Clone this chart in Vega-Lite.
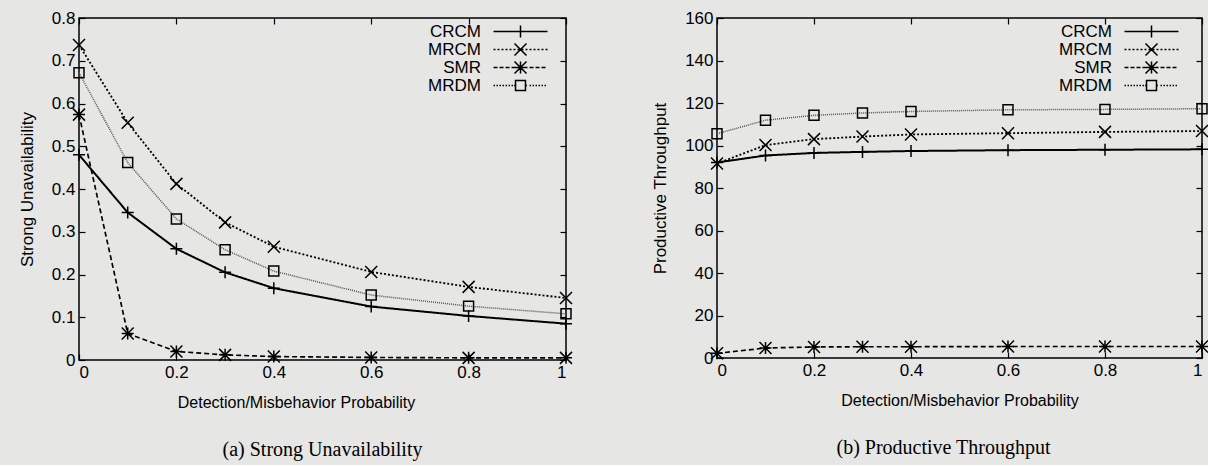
{
  "$schema": "https://vega.github.io/schema/vega-lite/v6.json",
  "background": "#e6e6e4",
  "padding": {"left": 17, "top": 8, "right": 4, "bottom": 4},
  "spacing": 74,
  "datasets": {
    "su": [
      {"s": "CRCM", "p": 0, "v": 0.48}, {"s": "CRCM", "p": 0.1, "v": 0.345}, {"s": "CRCM", "p": 0.2, "v": 0.26}, {"s": "CRCM", "p": 0.3, "v": 0.205}, {"s": "CRCM", "p": 0.4, "v": 0.168}, {"s": "CRCM", "p": 0.6, "v": 0.125}, {"s": "CRCM", "p": 0.8, "v": 0.103}, {"s": "CRCM", "p": 1, "v": 0.085},
      {"s": "MRCM", "p": 0, "v": 0.737}, {"s": "MRCM", "p": 0.1, "v": 0.555}, {"s": "MRCM", "p": 0.2, "v": 0.412}, {"s": "MRCM", "p": 0.3, "v": 0.322}, {"s": "MRCM", "p": 0.4, "v": 0.265}, {"s": "MRCM", "p": 0.6, "v": 0.206}, {"s": "MRCM", "p": 0.8, "v": 0.171}, {"s": "MRCM", "p": 1, "v": 0.145},
      {"s": "SMR", "p": 0, "v": 0.574}, {"s": "SMR", "p": 0.1, "v": 0.062}, {"s": "SMR", "p": 0.2, "v": 0.02}, {"s": "SMR", "p": 0.3, "v": 0.012}, {"s": "SMR", "p": 0.4, "v": 0.008}, {"s": "SMR", "p": 0.6, "v": 0.006}, {"s": "SMR", "p": 0.8, "v": 0.005}, {"s": "SMR", "p": 1, "v": 0.005},
      {"s": "MRDM", "p": 0, "v": 0.672}, {"s": "MRDM", "p": 0.1, "v": 0.462}, {"s": "MRDM", "p": 0.2, "v": 0.33}, {"s": "MRDM", "p": 0.3, "v": 0.258}, {"s": "MRDM", "p": 0.4, "v": 0.208}, {"s": "MRDM", "p": 0.6, "v": 0.152}, {"s": "MRDM", "p": 0.8, "v": 0.126}, {"s": "MRDM", "p": 1, "v": 0.108}
    ],
    "pt": [
      {"s": "CRCM", "p": 0, "v": 92}, {"s": "CRCM", "p": 0.1, "v": 95.3}, {"s": "CRCM", "p": 0.2, "v": 96.5}, {"s": "CRCM", "p": 0.3, "v": 97}, {"s": "CRCM", "p": 0.4, "v": 97.4}, {"s": "CRCM", "p": 0.6, "v": 97.8}, {"s": "CRCM", "p": 0.8, "v": 98}, {"s": "CRCM", "p": 1, "v": 98.2},
      {"s": "MRCM", "p": 0, "v": 91.5}, {"s": "MRCM", "p": 0.1, "v": 100.2}, {"s": "MRCM", "p": 0.2, "v": 103}, {"s": "MRCM", "p": 0.3, "v": 104.2}, {"s": "MRCM", "p": 0.4, "v": 105.2}, {"s": "MRCM", "p": 0.6, "v": 105.8}, {"s": "MRCM", "p": 0.8, "v": 106.4}, {"s": "MRCM", "p": 1, "v": 106.8},
      {"s": "SMR", "p": 0, "v": 2.2}, {"s": "SMR", "p": 0.1, "v": 4.7}, {"s": "SMR", "p": 0.2, "v": 5.2}, {"s": "SMR", "p": 0.3, "v": 5.3}, {"s": "SMR", "p": 0.4, "v": 5.3}, {"s": "SMR", "p": 0.6, "v": 5.4}, {"s": "SMR", "p": 0.8, "v": 5.4}, {"s": "SMR", "p": 1, "v": 5.4},
      {"s": "MRDM", "p": 0, "v": 105.5}, {"s": "MRDM", "p": 0.1, "v": 111.9}, {"s": "MRDM", "p": 0.2, "v": 114.2}, {"s": "MRDM", "p": 0.3, "v": 115.3}, {"s": "MRDM", "p": 0.4, "v": 116}, {"s": "MRDM", "p": 0.6, "v": 116.8}, {"s": "MRDM", "p": 0.8, "v": 117}, {"s": "MRDM", "p": 1, "v": 117.3}
    ]
  },
  "hconcat": [
    {
      "width": 487,
      "height": 342,
      "data": {"name": "su"},
      "title": {"text": "(a) Strong Unavailability", "orient": "bottom", "font": "Liberation Serif", "fontSize": 20, "fontWeight": "normal", "color": "black", "offset": 30, "anchor": "middle"},
      "layer": [
        {
          "mark": {"type": "line", "clip": false},
          "encoding": {
            "x": {"field": "p", "type": "quantitative", "scale": {"domain": [0, 1], "nice": false}, "axis": {"values": [0, 0.2, 0.4, 0.6, 0.8, 1], "format": "~g", "title": "Detection/Misbehavior Probability", "titleX": 217}},
            "y": {"field": "v", "type": "quantitative", "scale": {"domain": [0, 0.8], "nice": false}, "axis": {"values": [0, 0.1, 0.2, 0.3, 0.4, 0.5, 0.6, 0.7, 0.8], "format": "~g", "title": "Strong Unavailability"}},
            "color": {"field": "s", "type": "nominal", "scale": {"domain": ["CRCM", "MRCM", "SMR", "MRDM"], "range": ["#000000", "#000000", "#000000", "#555555"]}, "legend": null},
            "strokeDash": {"field": "s", "type": "nominal", "scale": {"domain": ["CRCM", "MRCM", "SMR", "MRDM"], "range": [[1, 0], [2, 2], [5, 3], [1, 1]]}, "legend": null},
            "strokeWidth": {"field": "s", "type": "nominal", "scale": {"domain": ["CRCM", "MRCM", "SMR", "MRDM"], "range": [2, 1.5, 1.5, 1.2]}, "legend": null}
          }
        },
        {
          "mark": {"type": "point", "filled": false, "color": "black", "size": 144, "strokeWidth": 1.5, "opacity": 1, "clip": false},
          "encoding": {
            "x": {"field": "p", "type": "quantitative", "axis": null},
            "y": {"field": "v", "type": "quantitative", "axis": null},
            "shape": {"field": "s", "type": "nominal", "scale": {"domain": ["CRCM", "MRCM", "SMR", "MRDM"], "range": ["M-1,0H1M0,-1V1", "M-1,-1L1,1M-1,1L1,-1", "M-1,0H1M0,-1V1M-1,-1L1,1M-1,1L1,-1", "M-0.83,-0.83H0.83V0.83H-0.83Z"]}, "legend": null}
          }
        },
        {
          "transform": [{"filter": "false"}],
          "mark": {"type": "point", "filled": false, "color": "black", "size": 144, "strokeWidth": 1.5, "opacity": 1},
          "encoding": {
            "x": {"field": "p", "type": "quantitative", "axis": {"orient": "top", "labels": false, "title": null, "values": [0, 0.2, 0.4, 0.6, 0.8, 1]}},
            "y": {"field": "v", "type": "quantitative", "axis": {"orient": "right", "labels": false, "title": null, "values": [0, 0.1, 0.2, 0.3, 0.4, 0.5, 0.6, 0.7, 0.8]}},
            "shape": {"field": "s", "type": "nominal", "scale": {"domain": ["CRCM", "MRCM", "SMR", "MRDM"], "range": [
              "M-4.5,0H4.5M0,-1V1",
              "M-4.5,0h0.33M-3.83,0h0.33M-3.17,0h0.33M-2.5,0h0.33M-1.83,0h0.33M-1.17,0h0.33M-0.5,0h0.33M0.17,0h0.33M0.83,0h0.33M1.5,0h0.33M2.17,0h0.33M2.83,0h0.33M3.5,0h0.33M4.17,0h0.33M-1,-1L1,1M-1,1L1,-1",
              "M-4.5,0h0.67M-3.5,0h0.67M-2.5,0h0.67M-1.5,0h0.67M-0.5,0h0.67M0.5,0h0.67M1.5,0h0.67M2.5,0h0.67M3.5,0h0.67M-1,0H1M0,-1V1M-1,-1L1,1M-1,1L1,-1",
              "M-4.5,0h0.25M-4,0h0.25M-3.5,0h0.25M-3,0h0.25M-2.5,0h0.25M-2,0h0.25M-1.5,0h0.25M-1.08,0h0.25M0.83,0h0.25M1.5,0h0.25M2,0h0.25M2.5,0h0.25M3,0h0.25M3.5,0h0.25M4,0h0.25M-0.83,-0.83H0.83V0.83H-0.83Z"
            ]}, "legend": {"title": null, "orient": "none", "legendX": 433, "legendY": 5}}
          }
        }
      ],
      "resolve": {"scale": {"shape": "independent"}, "axis": {"x": "independent", "y": "independent"}}
    },
    {
      "width": 485,
      "height": 340,
      "data": {"name": "pt"},
      "title": {"text": "(b) Productive Throughput", "orient": "bottom", "font": "Liberation Serif", "fontSize": 20, "fontWeight": "normal", "color": "black", "offset": 30, "anchor": "middle", "frame": "group", "dx": -16},
      "layer": [
        {
          "mark": {"type": "line", "clip": false},
          "encoding": {
            "x": {"field": "p", "type": "quantitative", "scale": {"domain": [0, 1], "nice": false}, "axis": {"values": [0, 0.2, 0.4, 0.6, 0.8, 1], "format": "~g", "title": "Detection/Misbehavior Probability"}},
            "y": {"field": "v", "type": "quantitative", "scale": {"domain": [0, 160], "nice": false}, "axis": {"values": [0, 20, 40, 60, 80, 100, 120, 140, 160], "format": "d", "title": "Productive Throughput"}},
            "color": {"field": "s", "type": "nominal", "scale": {"domain": ["CRCM", "MRCM", "SMR", "MRDM"], "range": ["#000000", "#000000", "#000000", "#555555"]}, "legend": null},
            "strokeDash": {"field": "s", "type": "nominal", "scale": {"domain": ["CRCM", "MRCM", "SMR", "MRDM"], "range": [[1, 0], [2, 2], [5, 3], [1, 1]]}, "legend": null},
            "strokeWidth": {"field": "s", "type": "nominal", "scale": {"domain": ["CRCM", "MRCM", "SMR", "MRDM"], "range": [2, 1.5, 1.5, 1.2]}, "legend": null}
          }
        },
        {
          "mark": {"type": "point", "filled": false, "color": "black", "size": 144, "strokeWidth": 1.5, "opacity": 1, "clip": false},
          "encoding": {
            "x": {"field": "p", "type": "quantitative", "axis": null},
            "y": {"field": "v", "type": "quantitative", "axis": null},
            "shape": {"field": "s", "type": "nominal", "scale": {"domain": ["CRCM", "MRCM", "SMR", "MRDM"], "range": ["M-1,0H1M0,-1V1", "M-1,-1L1,1M-1,1L1,-1", "M-1,0H1M0,-1V1M-1,-1L1,1M-1,1L1,-1", "M-0.83,-0.83H0.83V0.83H-0.83Z"]}, "legend": null}
          }
        },
        {
          "transform": [{"filter": "false"}],
          "mark": {"type": "point", "filled": false, "color": "black", "size": 144, "strokeWidth": 1.5, "opacity": 1},
          "encoding": {
            "x": {"field": "p", "type": "quantitative", "axis": {"orient": "top", "labels": false, "title": null, "values": [0, 0.2, 0.4, 0.6, 0.8, 1]}},
            "y": {"field": "v", "type": "quantitative", "axis": {"orient": "right", "labels": false, "title": null, "values": [0, 20, 40, 60, 80, 100, 120, 140, 160]}},
            "shape": {"field": "s", "type": "nominal", "scale": {"domain": ["CRCM", "MRCM", "SMR", "MRDM"], "range": [
              "M-4.5,0H4.5M0,-1V1",
              "M-4.5,0h0.33M-3.83,0h0.33M-3.17,0h0.33M-2.5,0h0.33M-1.83,0h0.33M-1.17,0h0.33M-0.5,0h0.33M0.17,0h0.33M0.83,0h0.33M1.5,0h0.33M2.17,0h0.33M2.83,0h0.33M3.5,0h0.33M4.17,0h0.33M-1,-1L1,1M-1,1L1,-1",
              "M-4.5,0h0.67M-3.5,0h0.67M-2.5,0h0.67M-1.5,0h0.67M-0.5,0h0.67M0.5,0h0.67M1.5,0h0.67M2.5,0h0.67M3.5,0h0.67M-1,0H1M0,-1V1M-1,-1L1,1M-1,1L1,-1",
              "M-4.5,0h0.25M-4,0h0.25M-3.5,0h0.25M-3,0h0.25M-2.5,0h0.25M-2,0h0.25M-1.5,0h0.25M-1.08,0h0.25M0.83,0h0.25M1.5,0h0.25M2,0h0.25M2.5,0h0.25M3,0h0.25M3.5,0h0.25M4,0h0.25M-0.83,-0.83H0.83V0.83H-0.83Z"
            ]}, "legend": {"title": null, "orient": "none", "legendX": 426, "legendY": 5}}
          }
        }
      ],
      "resolve": {"scale": {"shape": "independent"}, "axis": {"x": "independent", "y": "independent"}}
    }
  ],
  "config": {
    "font": "Liberation Sans",
    "view": {"stroke": "black", "strokeWidth": 1.5, "fill": null},
    "axis": {"domain": false, "grid": false, "ticks": true, "tickColor": "black", "tickSize": -6, "tickWidth": 1.2, "labelFont": "Liberation Sans", "labelFontSize": 17, "labelColor": "black", "labelPadding": 10, "titleFont": "Liberation Sans", "titleFontSize": 16, "titleFontWeight": "normal", "titleColor": "black", "titlePadding": 14},
    "axisY": {"titlePadding": 15, "titleFontSize": 17},
    "legend": {"labelFont": "Liberation Sans", "labelFontSize": 17, "labelColor": "black", "labelAlign": "right", "labelOffset": -48, "symbolSize": 144, "symbolStrokeWidth": 1.5, "symbolStrokeColor": "black", "symbolFillColor": "transparent", "rowPadding": -1, "padding": 0}
  }
}
